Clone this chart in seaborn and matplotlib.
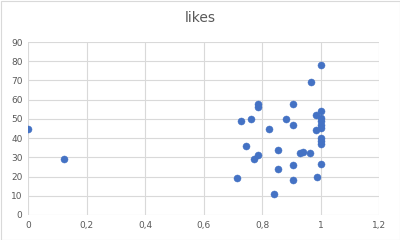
import matplotlib
matplotlib.use("Agg")
import matplotlib.pyplot as plt
import seaborn as sns
import pandas as pd
from matplotlib.ticker import FuncFormatter

x_vals = [0.0, 0.124, 1.0, 0.969, 0.786, 0.786, 0.907, 1.0, 0.984, 1.0, 1.0, 1.0,
          0.984, 1.0, 0.727, 0.761, 0.882, 0.906, 0.824, 1.0, 1.0, 1.0, 0.747,
          0.855, 0.939, 0.931, 0.964, 0.786, 0.773, 1.0, 0.907, 0.855, 0.988,
          0.715, 0.907, 0.84]
y_vals = [45, 29, 78, 69, 58, 56, 58, 54, 52, 50.5, 48.8, 47, 44.4, 45.3, 49, 50,
          50, 47, 45, 40, 38.3, 37, 36, 34, 33, 32, 32, 31, 29, 26.7, 25.8, 24,
          20, 19, 18, 11]
title = "likes"

df = pd.DataFrame({"x": x_vals, "y": y_vals})

sns.set_theme(style="white")
plt.rcParams['font.family'] = ['DejaVu Sans']

fig = plt.figure(figsize=(4, 2.4), dpi=100)
ax = fig.add_axes([28/400, 1 - 215/240, (379-28)/400, (215-42)/240])

sns.scatterplot(data=df, x="x", y="y", ax=ax, color="#4472C4", s=26,
                edgecolor="#4472C4", linewidth=0.3, zorder=3)

ax.set_xlim(0, 1.2)
ax.set_ylim(0, 90)
ax.set_xticks([0, 0.2, 0.4, 0.6, 0.8, 1.0, 1.2])
ax.set_yticks(range(0, 91, 10))
ax.xaxis.set_major_formatter(FuncFormatter(lambda v, p: ("%g" % round(v, 1)).replace(".", ",")))
ax.grid(True, color="#D9D9D9", linewidth=0.8)
ax.set_axisbelow(True)
for s in ax.spines.values():
    s.set_visible(False)
ax.tick_params(axis="both", labelsize=6.5, colors="#595959", length=0, pad=4)
ax.set_xlabel("")
ax.set_ylabel("")

fig.text(0.5, 1 - 18/240, title, ha="center", va="center", fontsize=10, color="#595959")

border = plt.Rectangle((0.5/400, 0.5/240), 1 - 1/400, 1 - 1/240, transform=fig.transFigure,
                       fill=False, edgecolor="#D9D9D9", linewidth=0.8)
fig.add_artist(border)

fig.savefig("out.png", dpi=100)
